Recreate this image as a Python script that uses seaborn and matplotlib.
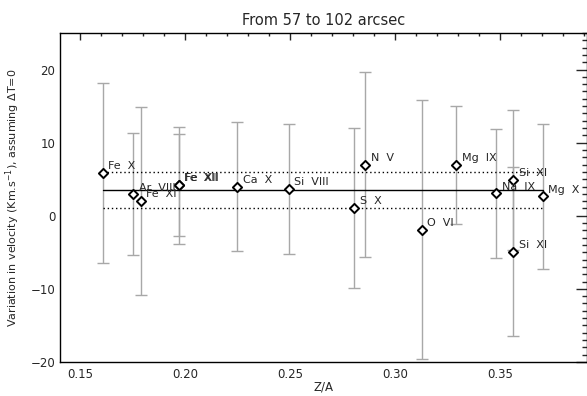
import numpy as np
import pandas as pd
import matplotlib
matplotlib.use('Agg')
import matplotlib.pyplot as plt
import seaborn as sns
from matplotlib.ticker import MultipleLocator

# Valores
especies = ["Fe  X", "Ar  VIII", "Fe  XI", "Fe  XII", "Fe  XII", "Ca  X", "Si  VIII",
            "S  X", "N  V", "O  VI", "Mg  IX", "Na  IX", "Si  XI", "Si  XI", "Mg  X"]
z_sobre_a = [0.1608, 0.1754, 0.1790, 0.1970, 0.1972, 0.2248, 0.2494,
             0.2806, 0.2859, 0.3127, 0.3292, 0.3483, 0.3563, 0.3563, 0.3703]
velocidad = [5.85, 2.95, 2.0, 4.2, 4.2, 4.0, 3.7,
             1.05, 6.95, -1.9, 6.95, 3.05, 4.9, -4.9, 2.65]
error = [12.3, 8.35, 12.9, 8.0, 7.0, 8.8, 8.9,
         10.9, 12.65, 17.7, 8.05, 8.85, 9.6, 11.6, 9.95]

v_media = 3.5
v_desv = 2.5

df = pd.DataFrame({'especie': especies, 'za': z_sobre_a, 'v': velocidad, 'err': error})

sns.set_style('white')
plt.rcParams['font.family'] = ['DejaVu Sans']

fig = plt.figure(figsize=(5.87, 3.96), dpi=100)
ax = fig.add_axes([0.1022, 0.0859, 0.8973, 0.8308])

# Barras de error
ax.errorbar(df['za'], df['v'], yerr=df['err'], fmt='none', ecolor='#a8a8a8',
            elinewidth=1.0, capsize=4, capthick=1.0, zorder=1)

# Media y desviacion
x0, x1 = df['za'].min(), df['za'].max()
ax.plot([x0, x1], [v_media, v_media], color='black', lw=1.0, zorder=2)
ax.plot([x0, x1], [v_media + v_desv] * 2, color='black', lw=1.0, ls=(0, (1, 2)), zorder=2)
ax.plot([x0, x1], [v_media - v_desv] * 2, color='black', lw=1.0, ls=(0, (1, 2)), zorder=2)

# Puntos
sns.scatterplot(data=df, x='za', y='v', marker='D', s=22, facecolor='white',
                edgecolor='black', linewidth=1.4, ax=ax, zorder=3, legend=False)

for _, fila in df.iterrows():
    ax.annotate(fila['especie'], (fila['za'], fila['v']), xytext=(4, 4.8),
                textcoords='offset points', ha='left', va='center', fontsize=8)

ax.set_xlim(0.1405, 0.3913)
ax.set_ylim(-20, 25)
ax.xaxis.set_major_locator(MultipleLocator(0.05))
ax.xaxis.set_minor_locator(MultipleLocator(0.01))
ax.yaxis.set_major_locator(MultipleLocator(10))
ax.yaxis.set_minor_locator(MultipleLocator(1))
ax.tick_params(axis='x', which='major', direction='in', length=4.7, width=1, top=True,
               labelsize=8.5, pad=4)
ax.tick_params(axis='x', which='minor', direction='in', length=2.4, width=1, top=True)
ax.tick_params(axis='y', which='major', direction='in', length=7.6, width=1, right=True,
               labelsize=8.5)
ax.tick_params(axis='y', which='minor', direction='in', length=3.8, width=1, right=True)

for s in ax.spines.values():
    s.set_color('black')
    s.set_linewidth(1.0)

ax.set_title('From 57 to 102 arcsec', fontsize=10.5, pad=6)
ax.set_xlabel('Z/A', fontsize=8.5, labelpad=0)
ax.set_ylabel(r'Variation in velocity (Km.s$^{-1}$), assuming $\Delta$T=0', fontsize=8, labelpad=6)

fig.savefig('out.png', dpi=100)
